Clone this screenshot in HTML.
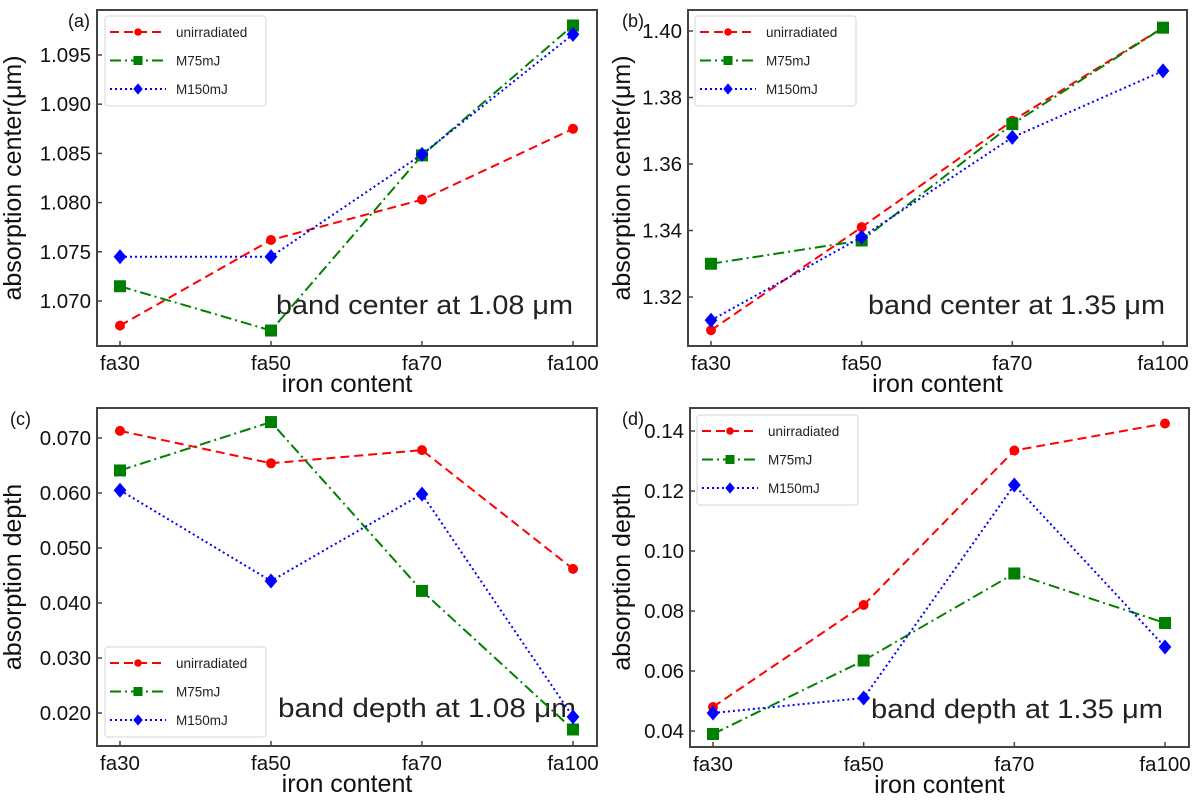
<!DOCTYPE html>
<html><head><meta charset="utf-8"><style>
html,body{margin:0;padding:0;background:#fff;}
svg{display:block;font-family:"Liberation Sans","Noto Sans CJK SC",sans-serif;}
</style></head><body>
<svg id="fig" width="1200" height="800" viewBox="0 0 1200 800"></svg>
<script>
const categories = ["fa30","fa50","fa70","fa100"];
const seriesNames = ["unirradiated","M75mJ","M150mJ"];
// panel a: absorption center 1.08
const aUnirr = [1.0675, 1.0762, 1.0803, 1.0875];
const aM75 = [1.0715, 1.0670, 1.0848, 1.0980];
const aM150 = [1.0745, 1.0745, 1.0849, 1.0971];
const aTicks = ["1.070","1.075","1.080","1.085","1.090","1.095"];
// panel b: absorption center 1.35
const bUnirr = [1.310, 1.341, 1.373, 1.401];
const bM75 = [1.330, 1.337, 1.372, 1.401];
const bM150 = [1.313, 1.338, 1.368, 1.388];
const bTicks = ["1.32","1.34","1.36","1.38","1.40"];
// panel c: depth 1.08
const cUnirr = [0.0713, 0.0654, 0.0678, 0.0462];
const cM75 = [0.0641, 0.0729, 0.0422, 0.0170];
const cM150 = [0.0605, 0.0440, 0.0598, 0.0193];
const cTicks = ["0.020","0.030","0.040","0.050","0.060","0.070"];
// panel d: depth 1.35
const dUnirr = [0.048, 0.082, 0.1335, 0.1425];
const dM75 = [0.039, 0.0635, 0.0925, 0.076];
const dM150 = [0.046, 0.051, 0.122, 0.068];
const dTicks = ["0.04","0.06","0.08","0.10","0.12","0.14"];

const NS="http://www.w3.org/2000/svg";
const svg=document.getElementById('fig');
function mk(tag,attrs,parent){const e=document.createElementNS(NS,tag);for(const k in attrs)e.setAttribute(k,attrs[k]);(parent||svg).appendChild(e);return e;}

const colors=["#ff0000","#008000","#0000ff"];
const dashes=["9,5","11,4,2,4","2,3"];

function panel(o){
  const g=mk('g',{});
  
  
  const L=o.L,R=o.R,T=o.T,B=o.B;
  const x0=L+23, x1=R-24;
  const xs=i=>x0+(x1-x0)*i/(categories.length-1);
  const ys=v=>o.y1px+(v-o.v1)*(o.y2px-o.y1px)/(o.v2-o.v1);
  const box=mk('rect',{x:L,y:T,width:R-L,height:B-T,fill:'none',stroke:'#444',"stroke-width":2},g);
  
  
  o.ticks.forEach(t=>{
    const y=ys(parseFloat(t));
    mk('line',{x1:L,x2:L+5,y1:y,y2:y,stroke:'#444',"stroke-width":1.5},g);
    const tx=mk('text',{x:L-6,y:y+7,"text-anchor":"end","font-size":20.5,fill:'#111'},g);
    tx.textContent=t;
    
    
  });
  categories.forEach((c,i)=>{
    const x=xs(i);
    mk('line',{x1:x,x2:x,y1:B,y2:B-5,stroke:'#444',"stroke-width":1.5},g);
    const tx=mk('text',{x:x,y:B+24,"text-anchor":"middle","font-size":20.5,fill:'#111'},g);
    tx.textContent=c;
    
    
  });
  const xl=mk('text',{x:(L+R)/2,y:B+46,"text-anchor":"middle","font-size":25,fill:'#111'},g);
  xl.textContent='iron content';
  
  
  const cy=(T+B)/2, yx=L-o.yoff;
  const yl=mk('text',{x:yx,y:cy,"text-anchor":"middle","font-size":25,fill:'#111',transform:`rotate(-90 ${yx} ${cy})`},g);
  yl.textContent=o.ylabel;
  
  
  const pl=mk('text',{x:L-o.loff,y:T+17,"font-size":18,fill:'#111'},g);
  pl.textContent=o.label;
  
  
  const an=mk('text',{x:o.annX,y:o.annY,"font-size":27,fill:'#222',"font-weight":300,textLength:o.annW,lengthAdjust:'spacingAndGlyphs'},g);
  an.textContent=o.ann;
  
  
  o.series.forEach((vals,s)=>{
    const pts=vals.map((v,i)=>xs(i)+','+ys(v)).join(' ');
    const pline=mk('polyline',{points:pts,fill:'none',stroke:colors[s],"stroke-width":2,"stroke-dasharray":dashes[s]},g);
    
    
    vals.forEach((v,i)=>{
      const m=marker(g,s,xs(i),ys(v),1);
      
      
    });
  });
  const lg=mk('g',{},g);
  
  
  mk('rect',{x:o.legX,y:o.legY,width:161,height:90,rx:3,fill:'#fff',"fill-opacity":0.85,stroke:'#ddd',"stroke-width":1.2},lg);
  seriesNames.forEach((n,s)=>{
    const y=o.legY+16+s*28.5;
    const ent=mk('g',{},lg);
    
    
    mk('line',{x1:o.legX+5,x2:o.legX+61,y1:y,y2:y,stroke:colors[s],"stroke-width":2,"stroke-dasharray":dashes[s]},ent);
    marker(ent,s,o.legX+33,y,0.75);
    const t=mk('text',{x:o.legX+71,y:y+5,"font-size":13.5,fill:'#222'},ent);
    t.textContent=n;
  });
}
function marker(g,s,x,y,k){
  if(s===0) return mk('circle',{cx:x,cy:y,r:5*k,fill:colors[0]},g);
  if(s===1){const h=6*k;return mk('rect',{x:x-h,y:y-h,width:2*h,height:2*h,fill:colors[1]},g);}
  const h=7.5*k;return mk('polygon',{points:`${x},${y-h} ${x+h*0.85},${y} ${x},${y+h} ${x-h*0.85},${y}`,fill:colors[2]},g);
}

panel({id:'a',label:'(a)',L:97,R:597,T:10,B:346,v1:1.070,y1px:301,v2:1.095,y2px:55,ticks:aTicks,yoff:76,loff:29,
  ylabel:'absorption center(μm)',series:[aUnirr,aM75,aM150],ann:'band center at 1.08 μm',annX:276,annY:314,annW:297,legX:105,legY:16});
panel({id:'b',label:'(b)',L:688,R:1187,T:10,B:346,v1:1.32,y1px:297,v2:1.40,y2px:31,ticks:bTicks,yoff:58,loff:66,
  ylabel:'absorption center(μm)',series:[bUnirr,bM75,bM150],ann:'band center at 1.35 μm',annX:868,annY:314,annW:297,legX:695,legY:16});
panel({id:'c',label:'(c)',L:97,R:597,T:408,B:746,v1:0.020,y1px:713,v2:0.070,y2px:438,ticks:cTicks,yoff:76,loff:87,
  ylabel:'absorption depth',series:[cUnirr,cM75,cM150],ann:'band depth at 1.08 μm',annX:278,annY:717,annW:298,legX:105,legY:647});
panel({id:'d',label:'(d)',L:690,R:1189,T:408,B:747,v1:0.04,y1px:731,v2:0.14,y2px:431,ticks:dTicks,yoff:60,loff:68,
  ylabel:'absorption depth',series:[dUnirr,dM75,dM150],ann:'band depth at 1.35 μm',annX:871,annY:718,annW:292,legX:697,legY:415});
</script>
</body></html>
